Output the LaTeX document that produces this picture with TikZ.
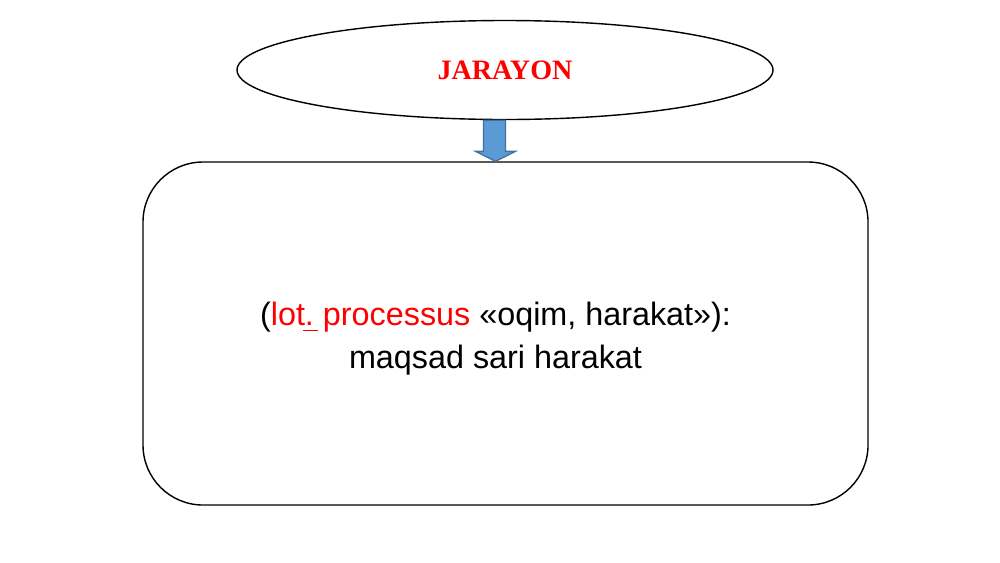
\documentclass[tikz,border=0pt]{standalone}
\usepackage{fontspec}
\setmainfont{Liberation Serif}
\setsansfont{Liberation Sans}
\usetikzlibrary{shapes.geometric}
\definecolor{arrowblue}{HTML}{5B9BD5}
\definecolor{arrowedge}{HTML}{41719C}
\newcommand{\reddot}{.\llap{\textcolor{red}{\rule[-0.35ex]{0.45em}{0.1ex}}\hspace{-0.12em}}}
\tikzset{
  title/.style={draw,thin,ellipse,minimum width=5.36cm,minimum height=0.99cm,
    font=\bfseries\fontsize{8}{9.6}\selectfont,text=red},
  defbox/.style={draw,thin,rounded corners=6mm,minimum width=7.25cm,minimum height=3.43cm},
  deftext/.style={align=center,font=\sffamily\fontsize{9.2}{12.2}\selectfont},
  bluearrow/.style={fill=arrowblue,draw=arrowedge,thin}
}

\begin{document}
\begin{tikzpicture}
\useasboundingbox (0,0) rectangle (10,5.62);
%\draw[step=1cm,gray,very thin] (0,0) grid (10,5.62);
%.............................
\node[title] (top) at (5.05,4.92) {JARAYON};
\node[defbox] (box) at (5.055,2.285) {};
\node[deftext] (def) at ([xshift=-1mm,yshift=-0.5mm]box.center)
  {(\textcolor{red}{lot\reddot{} processus} «oqim, harakat»):\\ maqsad sari harakat};
%.............................
\coordinate (tip) at ([xshift=-1mm]box.north);
\coordinate (s) at (tip |- top.south);
\draw[bluearrow] ([xshift=-1.2mm]s) -- ([xshift=1mm]s) -- ([xshift=1mm,yshift=1mm]tip)
  -- ([xshift=2mm,yshift=1mm]tip) -- (tip) -- ([xshift=-2mm,yshift=1mm]tip)
  -- ([xshift=-1.2mm,yshift=1mm]tip) -- cycle;
\end{tikzpicture}
\end{document}
